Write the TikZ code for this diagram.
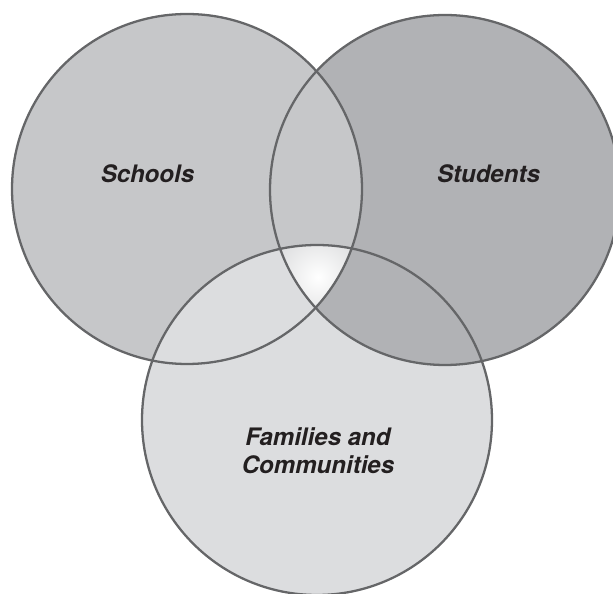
\documentclass[tikz,border=0pt]{standalone}
\usepackage{fontspec}
\setmainfont{TeX Gyre Heros}
\usetikzlibrary{shadings}
\definecolor{schoolgray}{HTML}{C6C7C9}
\definecolor{studentgray}{HTML}{B1B2B5}
\definecolor{familygray}{HTML}{DCDDDF}
\definecolor{rimgray}{HTML}{656668}
\definecolor{labelblack}{HTML}{231F20}

\begin{document}
\begin{tikzpicture}[x=0.02cm,y=-0.02cm]
	\tikzstyle{every node}=[font=\fontsize{13.7}{15.9}\selectfont\bfseries\itshape, text=labelblack]
	\tikzstyle{rim}=[draw=rimgray, line width=1.3pt]
	\useasboundingbox (0,0) rectangle (613,594);
	
	\coordinate (sch) at (187,189);
	\coordinate (stu) at (445,190);
	\coordinate (fam) at (317,420);
	
	% plain fills, then the overlaps
	\fill [studentgray] (stu) circle (175);
	\fill [schoolgray] (sch) circle (175);
	\fill [familygray] (fam) circle (175);
	
	\begin{scope}
	\clip (fam) circle (175);
	\fill [studentgray] (stu) circle (175);
	\end{scope}
	
	\begin{scope}
	\clip (fam) circle (175);
	\clip (sch) circle (175);
	\clip (stu) circle (175);
	\shade [inner color=white, outer color=schoolgray] (318,277) circle (80);
	\end{scope}
	
	\draw [rim] (sch) circle (175);
	\draw [rim] (stu) circle (175);
	\draw [rim] (fam) circle (175);
	
	\node (schools) at (147.5,174) {Schools};
	\node (students) at (488.5,174) {Students};
	\node [align=center] (families) at (318,451) {Families and\\Communities};
	
\end{tikzpicture}
\end{document}
